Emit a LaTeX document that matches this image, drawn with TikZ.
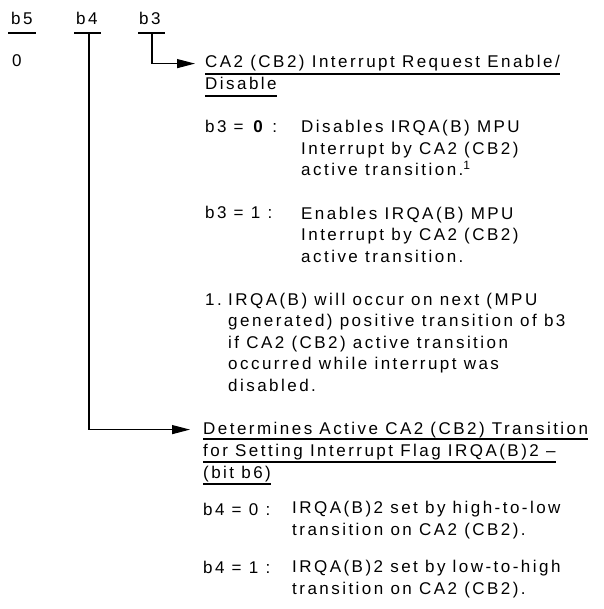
\documentclass[tikz,border=0pt]{standalone}
\usepackage{fontspec}
\setmainfont{Liberation Sans}[LetterSpace=14.5]
\usetikzlibrary{arrows.meta}
\begin{document}
\begin{tikzpicture}[x=1pt,y=-1pt,
  txt/.style={anchor=base west,inner sep=0pt,font=\fontsize{17}{21.5}\selectfont,align=left},
  rule/.style={line width=1.1pt},
  arr/.style={line width=1.2pt,-{Triangle[length=18pt,width=9pt]}}]
\useasboundingbox[fill=white] (0,0) rectangle (603,609);

% bit headers
\node[txt] (b5) at (11,25) {b5};
\node[txt] (b4) at (76,25) {b4};
\node[txt] (b3) at (139,25) {b3};
\draw[rule] (8,33) -- (36,33);
\draw[rule] (74,33) -- (101,33);
\draw[rule] (138,33) -- (165,33);
\coordinate (b4bar) at (89,33);
\coordinate (b3bar) at (152,33);
\node[txt] (zero) at (12,67) {0};

% b3 section (multi-line nodes are placed at the baseline of their last line)
\node[txt] (h1) at (205,68) {CA2 (CB2) Interrupt Request Enable/};
\node[txt] (h2) at (205,90) {Disable};
\draw[rule] ([yshift=-6pt]h1.base west) -- ([yshift=-6pt]h1.base east);
\draw[rule] ([yshift=-6pt]h2.base west) -- ([yshift=-6pt]h2.base east);

\node[txt] (l30) at (205,133) {b3 = \textbf{0} :};
\node[txt] (t30) at (301,176) {Disables IRQA(B) MPU\\Interrupt by CA2 (CB2)\\active transition.\raisebox{6pt}{\fontsize{12}{12}\selectfont 1}};
\node[txt] (l31) at (205,219) {b3 = 1 :};
\node[txt] (t31) at (301,262) {Enables IRQA(B) MPU\\Interrupt by CA2 (CB2)\\active transition.};
\node[txt] (f1) at (205,305) {1.};
\node[txt] (ft) at (228,391) {IRQA(B) will occur on next (MPU\\generated) positive transition of b3\\if CA2 (CB2) active transition\\occurred while interrupt was\\disabled.};

% b4 section
\node[txt] (d1) at (203,434) {Determines Active CA2 (CB2) Transition};
\node[txt] (d2) at (203,456) {for Setting Interrupt Flag IRQA(B)2 --};
\node[txt] (d3) at (203,478) {(bit b6)};
\draw[rule] ([yshift=-5pt]d1.base west) -- ([yshift=-5pt]d1.base east);
\draw[rule] ([yshift=-6pt]d2.base west) -- ([yshift=-6pt]d2.base east);
\draw[rule] ([yshift=-6pt]d3.base west) -- ([yshift=-6pt]d3.base east);

\node[txt] (l40) at (203,515) {b4 = 0 :};
\node[txt] (t40) at (292,535) {IRQA(B)2 set by high-to-low\\transition on CA2 (CB2).};
\node[txt] (l41) at (203,573) {b4 = 1 :};
\node[txt] (t41) at (292,594) {IRQA(B)2 set by low-to-high\\transition on CA2 (CB2).};

% connectors
\draw[arr,shorten >=10pt] (b3bar) |- (h1.west);
\draw[arr,shorten >=13pt] (b4bar) |- (d1.west);
\end{tikzpicture}
\end{document}
